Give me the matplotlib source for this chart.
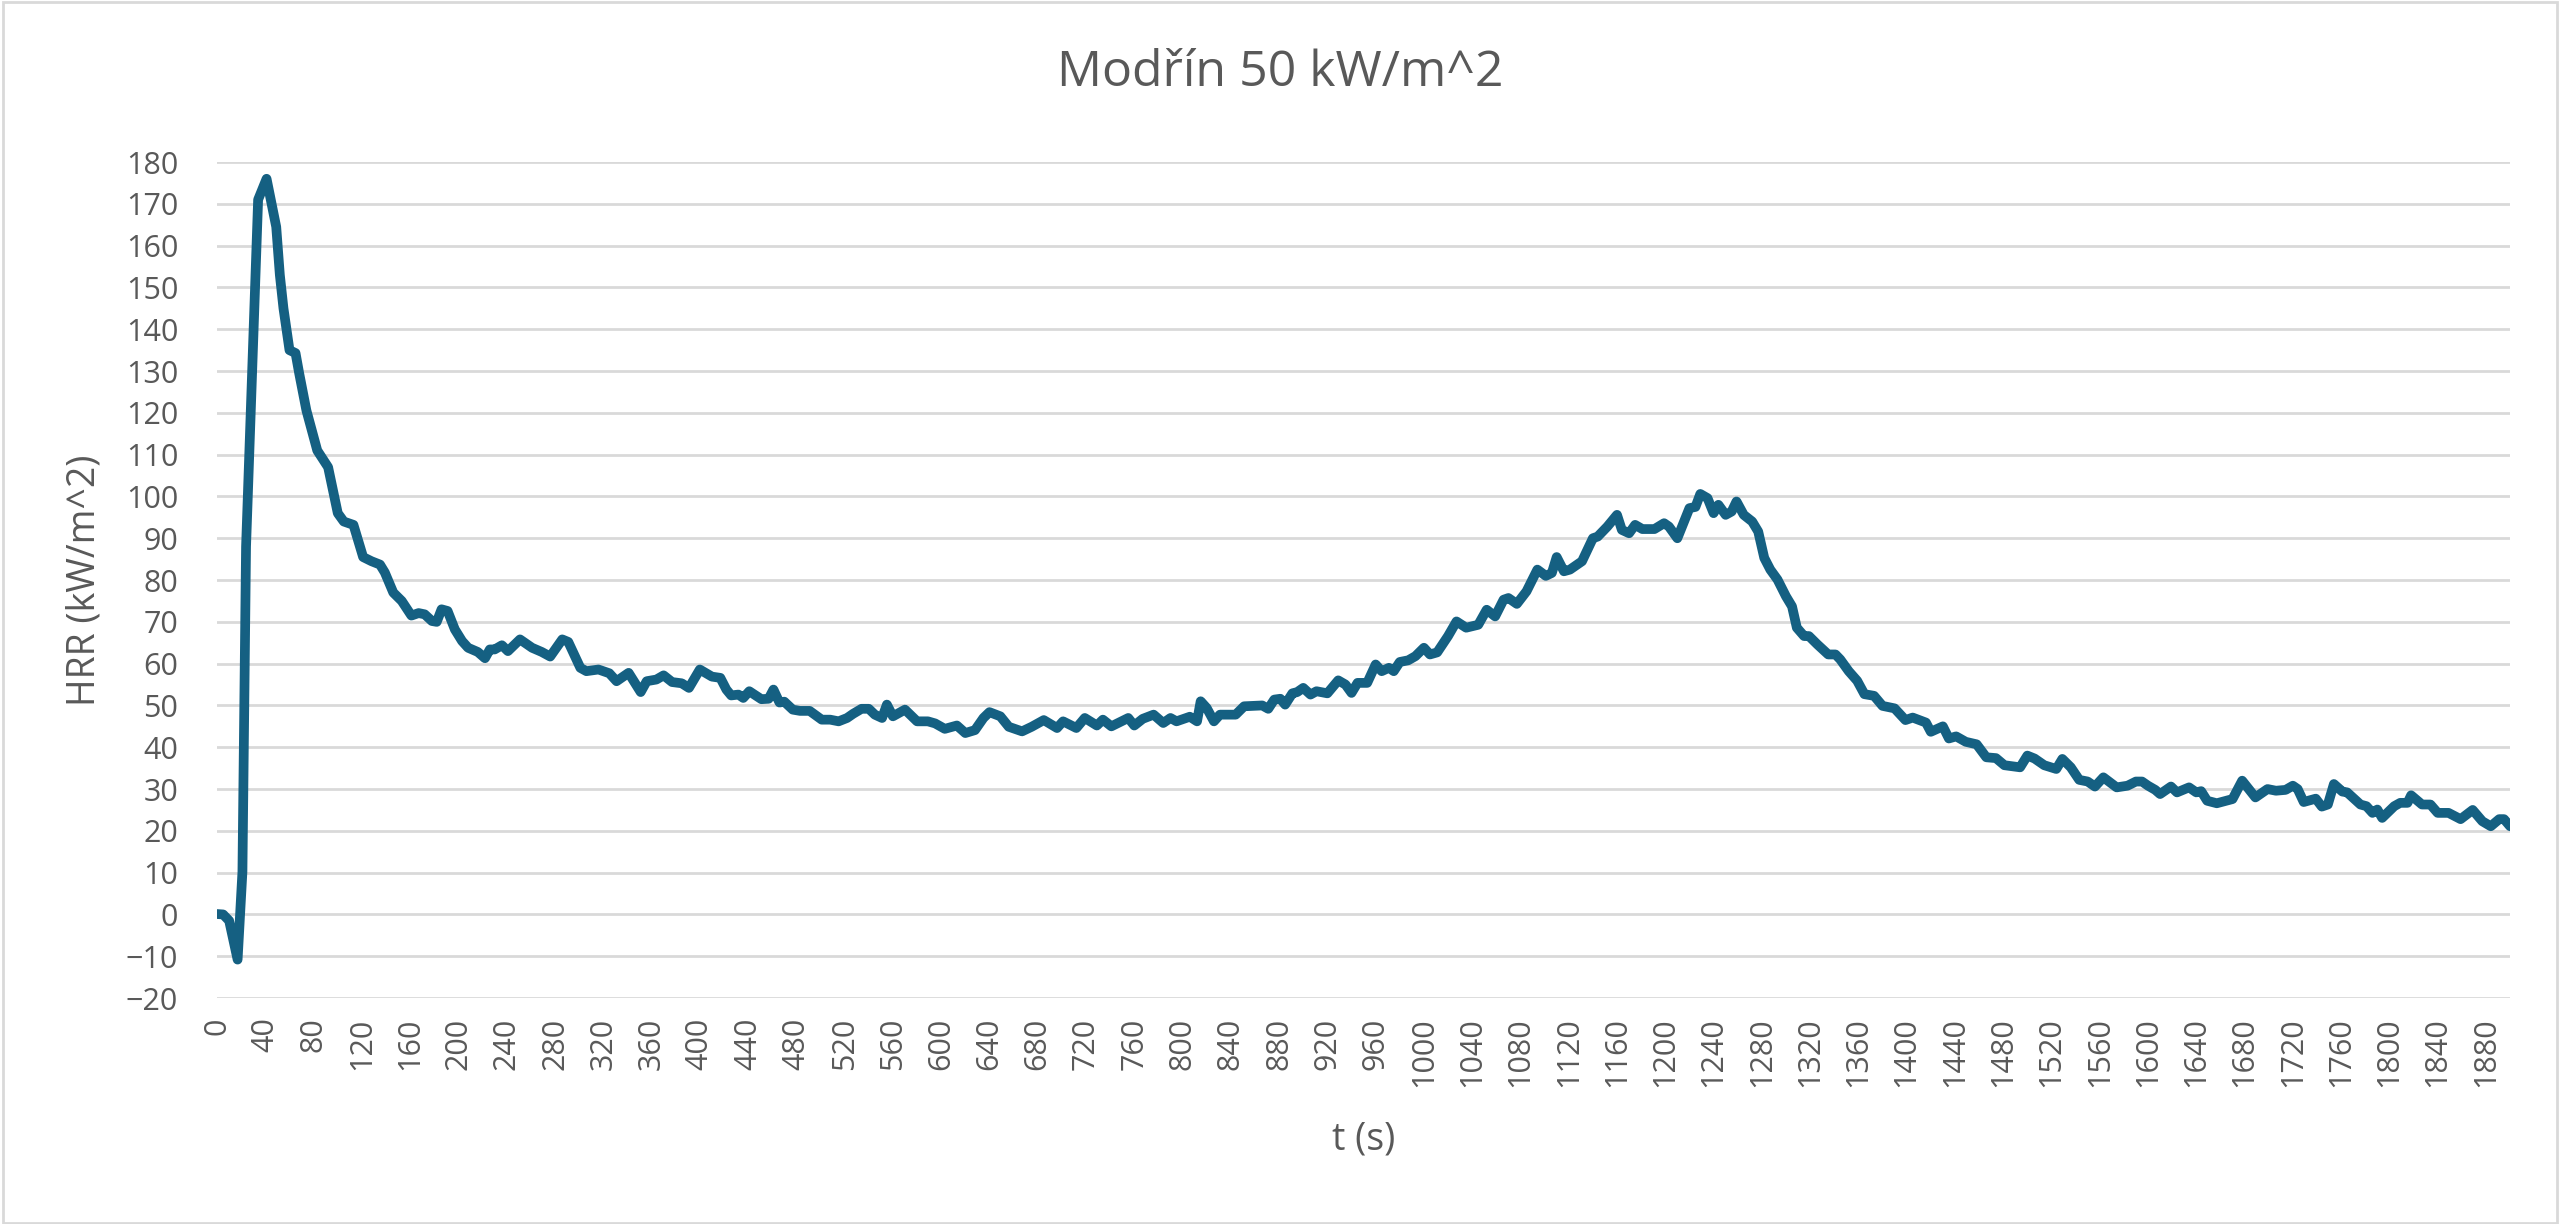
import matplotlib.pyplot as plt
from matplotlib.patches import Rectangle

# 数据 (čas s, HRR kW/m^2)
t_s = [0, 5, 10, 17, 21, 24, 30, 34, 41, 49, 52, 55, 60, 65, 68, 74, 83, 92, 100, 105, 113, 121, 128,
       135, 139, 146, 153, 161, 167, 172, 178, 182, 186, 191, 197, 203, 208, 216, 222, 226, 230, 236, 241,
       251, 261, 269, 276, 286, 291, 301, 306, 316, 325, 331, 341, 351, 356, 364, 370, 377, 385, 391, 400,
       410, 417, 422, 426, 432, 436, 441, 451, 457, 461, 466, 470, 477, 483, 491,
       501, 508, 515, 522, 527, 534, 540, 545, 551, 555, 560, 570, 580, 589, 595, 603, 613, 620, 628, 635,
       640, 649, 656, 667, 675, 685, 696, 701, 712, 719, 729, 734, 741, 755, 760, 767, 776, 784, 790, 795,
       806, 812, 815, 820, 826, 831, 844, 851,
       866, 871, 876, 881, 885, 891, 895, 900, 906, 911, 920, 929, 935, 940, 945, 953, 960, 965, 971, 975,
       980, 987, 993, 1000, 1005, 1011, 1020, 1027, 1035, 1045, 1052, 1059, 1066, 1070, 1077, 1085, 1094,
       1101, 1106, 1110, 1116, 1121, 1131, 1140, 1144,
       1152, 1160, 1164, 1170, 1175, 1181, 1191, 1199, 1203, 1210, 1220, 1225, 1229, 1235, 1240, 1244, 1250,
       1255, 1259, 1265, 1272, 1277, 1282, 1287, 1293, 1300, 1305, 1309, 1315, 1319, 1326, 1335, 1341, 1345,
       1352, 1359, 1365, 1373, 1380, 1390, 1399, 1405, 1416, 1420, 1430, 1435, 1441, 1449, 1458, 1466, 1474,
       1481, 1494, 1500, 1506, 1514, 1524, 1529, 1536, 1543, 1550, 1556, 1563, 1574, 1583, 1590, 1595, 1600,
       1606, 1610, 1619, 1624, 1634, 1640,
       1644, 1649, 1657, 1670, 1678, 1689, 1699, 1706, 1714, 1720, 1724, 1729, 1739, 1744, 1749, 1754, 1761,
       1765, 1776, 1781, 1786, 1790, 1794, 1804, 1809, 1815, 1818, 1827, 1834, 1840, 1849, 1859, 1869, 1877,
       1884, 1891, 1895, 1900]

hrr = [0.1, 0, -1.5, -10.8, 10.2, 88, 138, 171, 176, 164.5, 153, 145, 135, 134.3, 129.5, 120.6, 111, 107,
       96, 94, 93.2, 85.5, 84.5,
       83.7, 81.8, 77, 75, 71.5, 72.1, 71.8, 70.2, 70, 73, 72.6, 68.2, 65.4, 63.8, 62.8, 61.3, 63.4, 63.4,
       64.4, 63, 65.8, 63.8, 62.8, 61.7, 65.8, 65.2, 59, 58.2, 58.6, 57.7, 55.8, 57.8, 53.2, 55.8, 56.2,
       57.2, 55.6, 55.3, 54.2, 58.6, 56.9, 56.6, 53.8, 52.4, 52.6, 51.8, 53.4, 51.5, 51.6, 53.8, 50.7, 50.9,
       49, 48.7, 48.7,
       46.6, 46.6, 46.2, 47, 48, 49.2, 49.2, 47.8, 47, 50.2, 47.4, 49, 46.2, 46.2, 45.7, 44.4, 45.2, 43.4,
       44.1, 47, 48.4, 47.4, 44.9, 43.8, 44.9, 46.5, 44.6, 46.2, 44.6, 47, 45.2, 46.6, 45, 47, 45.2, 46.8,
       47.8, 45.8, 47, 46.2, 47.3, 46.2, 51, 49.4, 46.2, 47.8, 47.8, 49.8,
       50, 49.2, 51.4, 51.6, 50.2, 52.9, 53.2, 54.2, 52.6, 53.4, 52.9, 56, 55, 53, 55.4, 55.4, 59.8, 58.2,
       59, 58.2, 60.4, 60.8, 61.8, 63.8, 62.2, 62.7, 66.6, 70.1, 68.6, 69.3, 72.9, 71.3, 75.3, 75.7, 74.3,
       77.3, 82.5, 81, 81.7, 85.5, 82.1, 82.5, 84.5, 90, 90.4,
       92.8, 95.6, 92, 91.2, 93.2, 92.2, 92.2, 93.6, 92.8, 90, 97.2, 97.5, 100.6, 99.6, 96, 98, 95.6, 96.4,
       98.8, 95.6, 94, 91.6, 85.3, 82.5, 80.1, 76.1, 73.7, 68.6, 66.6, 66.6, 64.6, 62.2, 62.2, 61,
       58.2, 55.9, 52.7, 52.3, 49.9, 49.3, 46.5, 47.1, 45.9, 43.7, 45, 42.1, 42.6, 41.3, 40.7, 37.6, 37.4,
       35.7, 35.2, 38, 37.3, 35.7, 34.8, 37.2, 35.2, 32.2, 31.8, 30.6, 32.8, 30.4, 30.8, 31.8, 31.8, 30.8,
       29.8, 28.8, 30.6, 29.2, 30.4, 29.2,
       29.5, 27.2, 26.6, 27.6, 32, 28, 30, 29.6, 29.8, 30.8, 30, 26.9, 27.7, 25.8, 26.3, 31.2, 29.4, 29.2,
       26.3, 25.9, 24.3, 25.1, 23.1, 25.9, 26.7, 26.7, 28.5, 26.3, 26.3, 24.3, 24.3, 22.8, 25, 22.3, 21.1,
       22.8, 22.8, 21.1]

x_ticks = list(range(0, 1881, 40))
y_ticks = list(range(-20, 181, 10))

text_color = '#595959'
grid_color = '#d9d9d9'
line_color = '#156082'

plt.rcParams['font.family'] = ['Open Sans', 'DejaVu Sans']

fig = plt.figure(figsize=(25.6, 12.24), dpi=100)
fig.patch.set_facecolor('white')
# rámeček grafu
fig.add_artist(Rectangle((0.001, 0.001), 0.998, 0.997, transform=fig.transFigure,
                         fill=False, edgecolor=grid_color, linewidth=2))

ax = fig.add_axes([0.0848, 0.1846, 0.8957, 0.6830])
ax.plot(t_s, hrr, color=line_color, linewidth=7, solid_joinstyle='round', solid_capstyle='round')

ax.set_xlim(0, 1900)
ax.set_ylim(-20, 180)
ax.set_xticks(x_ticks)
ax.set_xticklabels([str(v) for v in x_ticks], rotation=90)
ax.set_yticks(y_ticks)
ax.yaxis.grid(True, color=grid_color, linewidth=2)
ax.set_axisbelow(True)
for s in ax.spines.values():
    s.set_visible(False)
ax.tick_params(axis='both', length=0, labelsize=22, labelcolor=text_color)
ax.tick_params(axis='y', pad=28)
ax.tick_params(axis='x', pad=14)

# titulek uprostřed celého obrázku
fig.text(0.5, 0.940, 'Modřín 50 kW/m^2', fontsize=36, color=text_color, ha='center', va='center')
ax.set_xlabel('t (s)', fontsize=27, color=text_color, labelpad=24)
ax.set_ylabel('HRR (kW/m^2)', fontsize=27, color=text_color, labelpad=16)

fig.savefig('out.png', dpi=100)
